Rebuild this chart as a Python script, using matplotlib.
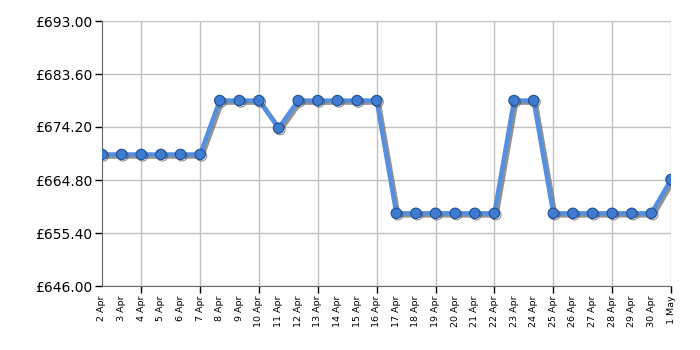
import matplotlib
matplotlib.use("Agg")
import matplotlib.pyplot as plt
import matplotlib.patheffects as pe

dates = ["2 Apr", "3 Apr", "4 Apr", "5 Apr", "6 Apr", "7 Apr", "8 Apr", "9 Apr", "10 Apr",
         "11 Apr", "12 Apr", "13 Apr", "14 Apr", "15 Apr", "16 Apr", "17 Apr", "18 Apr",
         "19 Apr", "20 Apr", "21 Apr", "22 Apr", "23 Apr", "24 Apr", "25 Apr", "26 Apr",
         "27 Apr", "28 Apr", "29 Apr", "30 Apr", "1 May"]
prices = [669.33, 669.33, 669.33, 669.33, 669.33, 669.33, 678.89, 678.89, 678.89,
          673.99, 678.89, 678.89, 678.89, 678.89, 678.89, 658.89, 658.89,
          658.89, 658.89, 658.89, 658.89, 678.89, 678.89, 658.89, 658.89,
          658.89, 658.89, 658.89, 658.89, 664.89]
y_ticks = [646.00, 655.40, 664.80, 674.20, 683.60, 693.00]
grid_dates = ["4 Apr", "7 Apr", "10 Apr", "13 Apr", "16 Apr", "19 Apr", "22 Apr",
              "25 Apr", "28 Apr", "1 May"]

fig = plt.figure(figsize=(7, 3.5), dpi=100)
ax = fig.add_axes([102/700, 1-286/350, 569/700, 265/350])

x = list(range(len(dates)))
ax.plot(x, prices, color="#5590e0", lw=3.2, zorder=3,
        path_effects=[pe.SimpleLineShadow(offset=(1.5, -1.5), shadow_color="#666666", alpha=0.7),
                      pe.Normal()])
ax.plot(x, prices, ls="none", marker="o", ms=7.5, mfc="#3f7bd0", mec="#1f4f95", mew=0.8,
        zorder=4,
        path_effects=[pe.SimpleLineShadow(offset=(1, -1), shadow_color="#444444", alpha=0.6),
                      pe.Normal()])

ax.set_xlim(0, len(dates) - 1)
ax.set_ylim(y_ticks[0], y_ticks[-1])

ax.xaxis.remove_overlapping_locs = False
ax.set_xticks(x)
ax.set_xticklabels(dates, rotation=90, fontsize=6.8)
ax.tick_params(axis="x", which="major", length=0, pad=7)
gx = [dates.index(d) for d in grid_dates]
ax.set_xticks(gx, minor=True)
ax.tick_params(axis="x", which="minor", direction="out", length=5, width=1, color="black")
ax.grid(True, axis="x", which="minor", color="#c0c0c0", lw=1)

ax.set_yticks(y_ticks)
ax.set_yticklabels([f"£{v:.2f}" for v in y_ticks], fontsize=10)
ax.tick_params(axis="y", length=5, width=1, color="black", pad=2)
ax.grid(True, axis="y", color="#c0c0c0", lw=1)

for s in ["top", "right"]:
    ax.spines[s].set_visible(False)
for s in ["left", "bottom"]:
    ax.spines[s].set_color("#666666")
ax.set_axisbelow(True)

fig.savefig("out.png", dpi=100)
